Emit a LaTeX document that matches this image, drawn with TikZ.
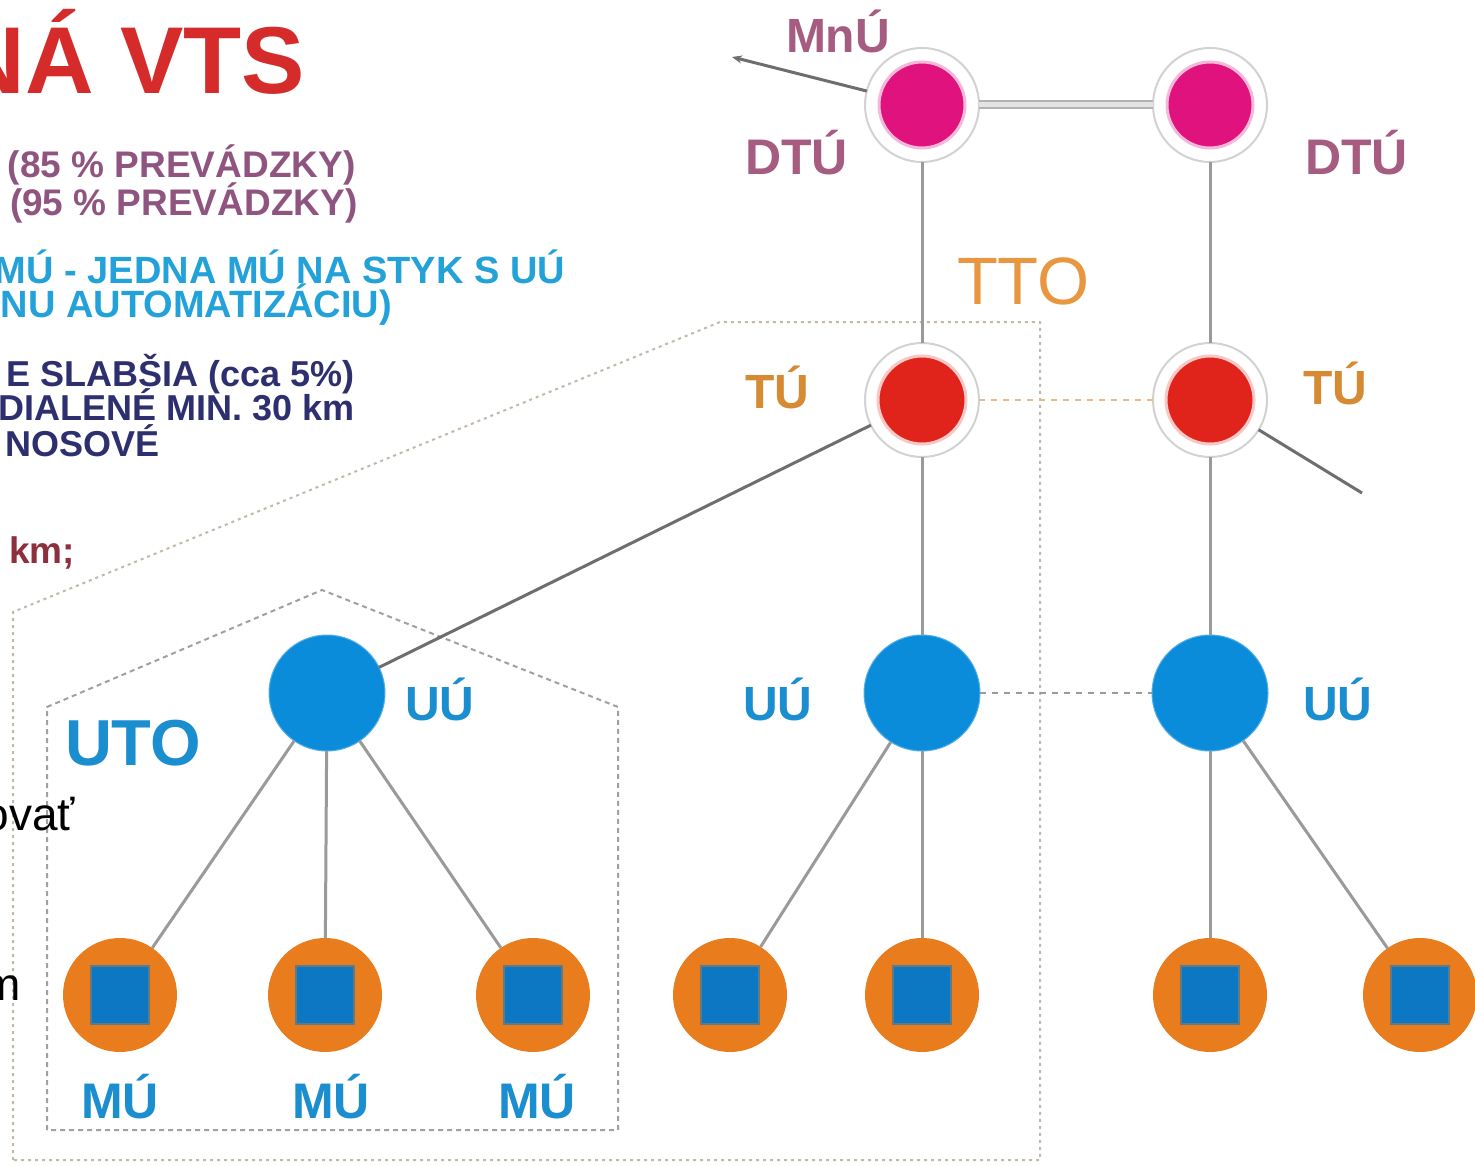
\documentclass[tikz,border=0pt]{standalone}
\usepackage{fontspec}
\setmainfont{Liberation Sans}
\usetikzlibrary{arrows.meta}

\definecolor{dtumag}{HTML}{E0127E}
\definecolor{tured}{HTML}{E0231B}
\definecolor{uublue}{HTML}{0B8CDA}
\definecolor{muorange}{HTML}{E97C1C}
\definecolor{musq}{HTML}{0C77C2}
\definecolor{linegray}{HTML}{9A9A9A}
\definecolor{darkline}{HTML}{6E6E6E}
\definecolor{ringgray}{HTML}{D2D2D2}
\definecolor{mauve}{HTML}{A65C80}
\definecolor{tuorange}{HTML}{D58A33}
\definecolor{ttoorange}{HTML}{E99640}
\definecolor{labblue}{HTML}{1B8ECF}
\definecolor{titlered}{HTML}{D62B2B}
\definecolor{purptext}{HTML}{8F5580}
\definecolor{cyantext}{HTML}{23A2DA}
\definecolor{navytext}{HTML}{2E2F6E}
\definecolor{kmred}{HTML}{8E2F3E}
\definecolor{zonegray}{HTML}{A0A0A0}
\definecolor{outerzone}{HTML}{C2B9AA}

\newcommand{\fsz}[1]{\fontsize{#1}{#1}\selectfont}

\begin{document}
\begin{tikzpicture}[x=1pt,y=-1pt,
  every node/.style={inner sep=0pt, outer sep=0pt},
  ringnode/.style={circle, minimum size=114pt, draw=ringgray, line width=2pt, fill=white},
  dtunode/.style={ringnode, path picture={\fill[dtumag, draw=dtumag!30, line width=3pt]
      (path picture bounding box.center) circle (43pt);}},
  tunode/.style={ringnode, path picture={\fill[tured, draw=tured!25, line width=3pt]
      (path picture bounding box.center) circle (44pt);}},
  uunode/.style={circle, minimum size=116pt, fill=uublue, draw=uublue!70, line width=1pt},
  munode/.style={circle, minimum size=114pt, fill=muorange,
      path picture={\fill[musq, draw=musq!60!muorange, line width=1.5pt]
      ([shift={(-29pt,-29pt)}]path picture bounding box.center) rectangle
      ([shift={(29pt,29pt)}]path picture bounding box.center);}},
  link/.style={draw=linegray, line width=3pt},
  darklink/.style={draw=darkline, line width=3pt},
  pipe/.style={draw=gray!60, line width=2pt, double=gray!22, double distance=5pt},
  lbl/.style={anchor=base west, font=\bfseries\fsz{48}},
  txt/.style={anchor=base east, font=\bfseries\fsz{37}},
]
\useasboundingbox (0,0) rectangle (1475,1166);
\fill[white] (0,0) rectangle (1475,1166);

% zone outlines
\draw[outerzone, line width=2pt, dash pattern=on 3pt off 4pt]
  (13,1160) -- (13,612) -- (720,322) -- (1040,322) -- (1040,1160) -- cycle;
\draw[zonegray, line width=2pt, dash pattern=on 5pt off 4pt]
  (47,1130) -- (47,707) -- (322,590) -- (618,707) -- (618,1130) -- cycle;

% text on the left
\node[anchor=base east, font=\bfseries\fsz{95}, text=titlered] (title) at (305,94) {NÁ VTS};
\node[txt, anchor=base west, text=purptext] (p85) at (8,178) {(85 \% PREVÁDZKY)};
\node[txt, anchor=base west, text=purptext] (p95) at (10,216) {(95 \% PREVÁDZKY)};
\node[txt, text=cyantext, font=\bfseries\fsz{38}] (c1) at (565,284) {MÚ - JEDNA MÚ NA STYK S UÚ};
\node[txt, text=cyantext, font=\bfseries\fsz{38}] (c2) at (392,318) {NU AUTOMATIZÁCIU)};
\node[txt, text=navytext, font=\bfseries\fsz{36}] (n1) at (355,386) {E SLABŠIA (cca 5\%)};
\node[txt, text=navytext, font=\bfseries\fsz{36}] (n2) at (355,420) {DIALENÉ MIN. 30 km};
\node[txt, text=navytext, font=\bfseries\fsz{36}] (n3) at (160,456) {NOSOVÉ};
\node[txt, text=kmred] (km) at (75,563) {km;};
\node[anchor=base east, font=\fsz{46}] (ovat) at (75,830) {ovať};
\node[anchor=base east, font=\fsz{46}] (mm) at (21,1000) {m};

% nodes
\node[dtunode] (dtuL) at (922,105) {};
\node[dtunode] (dtuR) at (1210,105) {};
\node[tunode] (tuL) at (922,400) {};
\node[tunode] (tuR) at (1210,400) {};
\node[uunode] (uuL) at (327,693) {};
\node[uunode] (uuM) at (922,693) {};
\node[uunode] (uuR) at (1210,693) {};
\node[munode] (mu1) at (120,995) {};
\node[munode] (mu2) at (325,995) {};
\node[munode] (mu3) at (533,995) {};
\node[munode] (mu4) at (730,995) {};
\node[munode] (mu5) at (922,995) {};
\node[munode] (mu6) at (1210,995) {};
\node[munode] (mu7) at (1420,995) {};
\coordinate (mnuEnd) at (732,57);
\coordinate (tuOut) at (1362,493);

% connectors
\draw[pipe] (dtuL) -- (dtuR);
\draw[link] (dtuL) -- (tuL);
\draw[link] (dtuR) -- (tuR);
\draw[link] (tuL) -- (uuM);
\draw[link] (tuR) -- (uuR);
\draw[tuorange!60, line width=2.5pt, dash pattern=on 6pt off 6pt] (tuL) -- (tuR);
\draw[linegray, line width=2.5pt, dash pattern=on 6pt off 6pt] (uuM) -- (uuR);
\draw[darklink] (tuL) -- (uuL);
\draw[darklink] (tuR) -- (tuOut);
\draw[darklink, -{Stealth[length=10pt,width=8pt]}] (dtuL) -- (mnuEnd);
\foreach \m in {mu1,mu2,mu3} \draw[link] (uuL) -- (\m);
\foreach \m in {mu4,mu5} \draw[link] (uuM) -- (\m);
\foreach \m in {mu6,mu7} \draw[link] (uuR) -- (\m);

% labels
\node[lbl, text=mauve] (lMnU) at (786,53) {MnÚ};
\node[lbl, text=mauve, font=\bfseries\fsz{50}] (lDtuL) at (745,175) {DTÚ};
\node[lbl, text=mauve, font=\bfseries\fsz{50}] (lDtuR) at (1305,175) {DTÚ};
\node[lbl, text=tuorange] (lTuL) at (745,408) {TÚ};
\node[lbl, text=tuorange] (lTuR) at (1303,404) {TÚ};
\node[anchor=base west, font=\fsz{67}, text=ttoorange] (lTTO) at (957,305) {TTO};
\node[lbl, text=labblue] (lUuL) at (405,720) {UÚ};
\node[lbl, text=labblue] (lUuM) at (743,720) {UÚ};
\node[lbl, text=labblue] (lUuR) at (1303,720) {UÚ};
\node[anchor=base west, font=\bfseries\fsz{65}, text=labblue] (lUTO) at (65,765) {UTO};
\node[lbl, text=labblue, font=\bfseries\fsz{50}] (lMu1) at (81,1118) {MÚ};
\node[lbl, text=labblue, font=\bfseries\fsz{50}] (lMu2) at (292,1118) {MÚ};
\node[lbl, text=labblue, font=\bfseries\fsz{50}] (lMu3) at (498,1118) {MÚ};
\end{tikzpicture}
\end{document}
